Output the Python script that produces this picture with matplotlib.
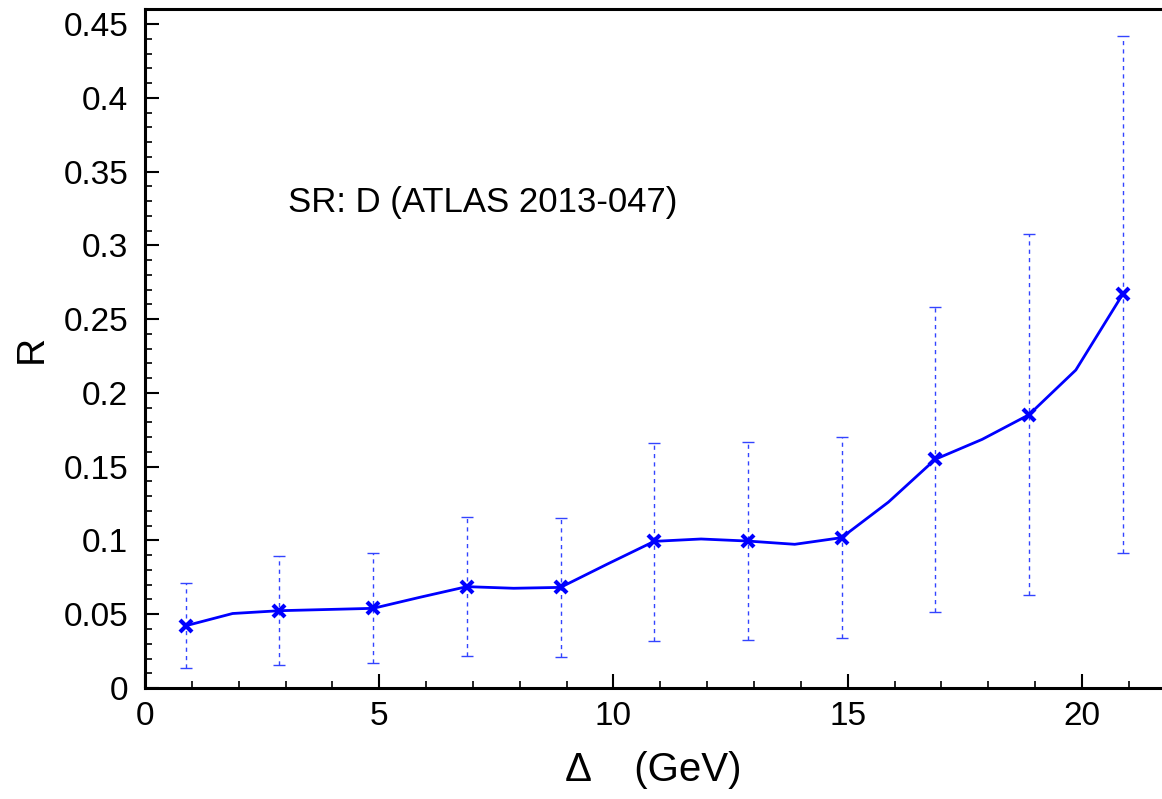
import matplotlib.pyplot as plt
from matplotlib.ticker import MultipleLocator

plt.rcParams['font.family'] = ['Liberation Sans', 'DejaVu Sans']

# curve (every 1 GeV)
delta = [0.87, 1.87, 2.87, 3.87, 4.87, 5.87, 6.87, 7.87, 8.87, 9.87, 10.87,
         11.87, 12.87, 13.87, 14.87, 15.87, 16.87, 17.87, 18.87, 19.87, 20.87]
r_val = [0.0422, 0.0505, 0.0524, 0.0532, 0.0540, 0.0615, 0.0687, 0.0676, 0.0682, 0.0840, 0.0994,
         0.1010, 0.0996, 0.0974, 0.1019, 0.1260, 0.1550, 0.1685, 0.1852, 0.2155, 0.2668]

# marked points with uncertainty band
delta_pts = [0.87, 2.87, 4.87, 6.87, 8.87, 10.87, 12.87, 14.87, 16.87, 18.87, 20.87]
r_pts = [0.0422, 0.0524, 0.0540, 0.0687, 0.0682, 0.0994, 0.0996, 0.1019, 0.1550, 0.1852, 0.2668]
r_hi = [0.0710, 0.0895, 0.0915, 0.1161, 0.1154, 0.1658, 0.1665, 0.1700, 0.2580, 0.3077, 0.4420]
r_lo = [0.0133, 0.0158, 0.0172, 0.0217, 0.0208, 0.0319, 0.0323, 0.0337, 0.0517, 0.0633, 0.0917]

fig = plt.figure(figsize=(11.62, 7.99), dpi=100)
ax = fig.add_axes([0.1248, 0.1389, 0.8752, 0.8495])

err_lo = [r - lo for r, lo in zip(r_pts, r_lo)]
err_hi = [hi - r for r, hi in zip(r_pts, r_hi)]
eb = ax.errorbar(delta_pts, r_pts, yerr=[err_lo, err_hi], fmt='none',
                 ecolor='#3344ff', elinewidth=1.0, capsize=4, capthick=1.0, zorder=2)
eb[2][0].set_linestyle((0, (3, 3)))

ax.plot(delta, r_val, color='#0000ff', lw=2.0, zorder=3)
ax.plot(delta_pts, r_pts, linestyle='none', marker='x', ms=9, mew=3,
        color='#0000ff', zorder=4)

ax.text(3.05, 0.329, 'SR: D (ATLAS 2013-047)', fontsize=25, va='center', ha='left')

ax.set_xlim(0, 21.71)
ax.set_ylim(0, 0.46)
ax.xaxis.set_major_locator(MultipleLocator(5))
ax.xaxis.set_minor_locator(MultipleLocator(1))
ax.yaxis.set_major_locator(MultipleLocator(0.05))
ax.yaxis.set_minor_locator(MultipleLocator(0.01))
ax.set_yticks([0, 0.05, 0.1, 0.15, 0.2, 0.25, 0.3, 0.35, 0.4, 0.45])
ax.set_yticklabels(['0', '0.05', '0.1', '0.15', '0.2', '0.25', '0.3', '0.35', '0.4', '0.45'])

ax.tick_params(which='major', direction='in', length=10, width=1.5, labelsize=24,
               top=False, right=False)
ax.tick_params(axis='y', which='major', pad=12)
ax.tick_params(axis='x', which='major', pad=9)
ax.tick_params(which='minor', direction='in', length=5, width=1.2, top=False, right=False)

for side in ['left', 'bottom', 'top']:
    ax.spines[side].set_linewidth(2.2)
ax.spines['right'].set_visible(False)

ax.set_ylabel('R', fontsize=28, labelpad=10)
ax.set_xlabel('Δ    (GeV)', fontsize=29, labelpad=14)

fig.savefig('out.png', dpi=100)
